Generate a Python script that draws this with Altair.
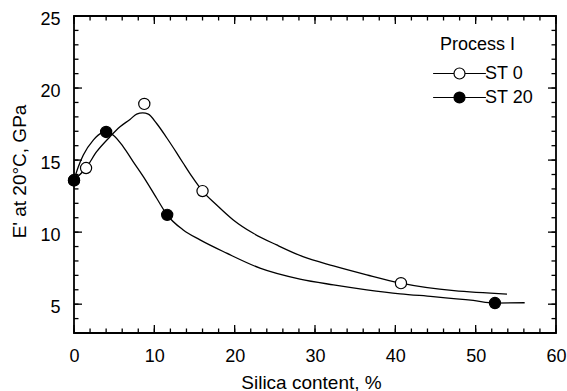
import altair as alt
import pandas as pd

# Smooth trend curves of storage modulus E' (GPa) against silica content (%)
st0_curve_x = [0, 1.49, 2.82, 4.48, 5.73, 6.97, 7.8, 8.55, 9.25, 10.29, 11.54, 12.78,
               13.6, 14.65, 16.0, 17.76, 19.83, 22.32, 25.23, 28.5, 32.3, 36.44, 40.7, 53.9]
st0_curve_y = [13.62, 14.45, 15.58, 16.62, 17.31, 17.82, 18.19, 18.28, 18.19, 17.54, 16.55, 15.5,
               14.78, 13.88, 12.85, 11.89, 10.85, 9.92, 9.11, 8.3, 7.66, 7.04, 6.46, 5.7]

st20_curve_x = [0, 0.54, 1.16, 2.4, 3.45, 3.98, 4.9, 6.14, 7.38, 8.63, 10.29, 11.6, 13.6,
                15.69, 19.0, 23.15, 28.13, 32.3, 36.44, 40.6, 44.7, 49.7, 52.4, 56.1]
st20_curve_y = [13.62, 14.54, 15.35, 16.39, 16.89, 16.95, 16.73, 15.92, 14.88, 13.85, 12.35, 11.19, 10.15,
                9.46, 8.54, 7.5, 6.74, 6.34, 6.0, 5.72, 5.53, 5.26, 5.08, 5.1]

# Measured values
st0_x = [0, 1.5, 8.75, 16.0, 40.7]
st0_y = [13.6, 14.45, 18.9, 12.85, 6.46]
st20_x = [0, 4.0, 11.6, 52.4]
st20_y = [13.6, 16.95, 11.2, 5.08]

series_names = ["ST 0", "ST 20"]
series_fill = ["white", "black"]

x_major = list(range(0, 61, 10))
x_minor = list(range(0, 61, 2))
y_major = [5, 10, 15, 20, 25]
y_minor = list(range(3, 26))

X_DOMAIN = [0, 60]
Y_DOMAIN = [3, 25]
W, H = 482, 317          # plot area, px
MINOR, MAJOR = 4.5, 8    # inward tick lengths, px

# tick lengths expressed in data units of each axis
dx_per_px = (X_DOMAIN[1] - X_DOMAIN[0]) / W
dy_per_px = (Y_DOMAIN[1] - Y_DOMAIN[0]) / H

rows = []
for name, xs, ys in ((series_names[0], st0_curve_x, st0_curve_y),
                     (series_names[1], st20_curve_x, st20_curve_y)):
    rows += [{"silica": a, "modulus": b, "group": name} for a, b in zip(xs, ys)]

# inward ticks on all four sides, each a two-point segment
k = 0
for values, length in ((x_minor, MINOR), (x_major, MAJOR)):
    dy = length * dy_per_px
    for v in values:
        for y0, y1 in ((Y_DOMAIN[0], Y_DOMAIN[0] + dy), (Y_DOMAIN[1] - dy, Y_DOMAIN[1])):
            rows += [{"silica": v, "modulus": y0, "group": f"tick{k}"},
                     {"silica": v, "modulus": y1, "group": f"tick{k}"}]
            k += 1
for values, length in ((y_minor, MINOR), (y_major, MAJOR)):
    dx = length * dx_per_px
    for v in values:
        for x0, x1 in ((X_DOMAIN[0], X_DOMAIN[0] + dx), (X_DOMAIN[1] - dx, X_DOMAIN[1])):
            rows += [{"silica": x0, "modulus": v, "group": f"tick{k}"},
                     {"silica": x1, "modulus": v, "group": f"tick{k}"}]
            k += 1

curves = pd.DataFrame(rows)
points = pd.DataFrame({
    "silica": st0_x + st20_x,
    "modulus": st0_y + st20_y,
    "series": [series_names[0]] * len(st0_x) + [series_names[1]] * len(st20_x),
})

FONT = "Liberation Sans"
x_scale = alt.Scale(domain=X_DOMAIN, nice=False, zero=False)
y_scale = alt.Scale(domain=Y_DOMAIN, nice=False, zero=False)

# legend key: a short line segment broken by a circle
KEY_PATH = "M-4.8,0H-1M1,0H4.8M1,0A1,1,0,1,1,-1,0A1,1,0,1,1,1,0Z"

x_main = alt.Axis(orient="bottom", values=x_major, ticks=False, domain=False, grid=False,
                  labelPadding=14, labelFontSize=18, labelFont=FONT, labelColor="black",
                  labelFlush=False,
                  title="Silica content, %", titleFont=FONT, titleFontSize=19,
                  titleFontWeight="normal", titleColor="black",
                  titleX=237, titleY=55, titleBaseline="alphabetic", titleAlign="center")
y_main = alt.Axis(orient="left", values=y_major, ticks=False, domain=False, grid=False,
                  labelPadding=14, labelOffset=3, labelFontSize=18, labelFont=FONT,
                  labelColor="black", labelFlush=False,
                  title="E' at 20°C, GPa", titleFont=FONT, titleFontSize=19,
                  titleFontWeight="normal", titleColor="black",
                  titleX=-49, titleY=155, titleBaseline="alphabetic", titleAlign="center")

lines = alt.Chart(curves).mark_line(color="black", strokeWidth=1.3, interpolate="monotone").encode(
    x=alt.X("silica:Q", scale=x_scale, axis=x_main),
    y=alt.Y("modulus:Q", scale=y_scale, axis=y_main),
    detail="group:N",
)

markers = alt.Chart(points).mark_point(
    shape="circle", filled=True, size=125, stroke="black", strokeWidth=1.2, opacity=1
).encode(
    x=alt.X("silica:Q", scale=x_scale),
    y=alt.Y("modulus:Q", scale=y_scale),
    fill=alt.Fill("series:N", scale=alt.Scale(domain=series_names, range=series_fill),
                  legend=alt.Legend(
                      title="Process I", orient="none", legendX=366, legendY=19.5,
                      symbolType=KEY_PATH, symbolSize=121, symbolStrokeColor="black",
                      symbolStrokeWidth=1.2, symbolOffset=10.5, labelOffset=16.5,
                      labelFont=FONT, labelFontSize=18, labelColor="black",
                      titleFont=FONT, titleFontSize=18, titleFontWeight="normal",
                      titleColor="black", titlePadding=11, rowPadding=6, padding=0)),
)

chart = alt.layer(lines, markers).properties(
    width=W, height=H,
    autosize=alt.AutoSizeParams(type="none"),
    padding={"left": 74, "top": 16, "right": 11, "bottom": 58},
    background="white",
).configure_view(
    stroke="black", strokeWidth=1.8
)

chart.save("out.html", embed_options={"renderer": "svg", "actions": False})
